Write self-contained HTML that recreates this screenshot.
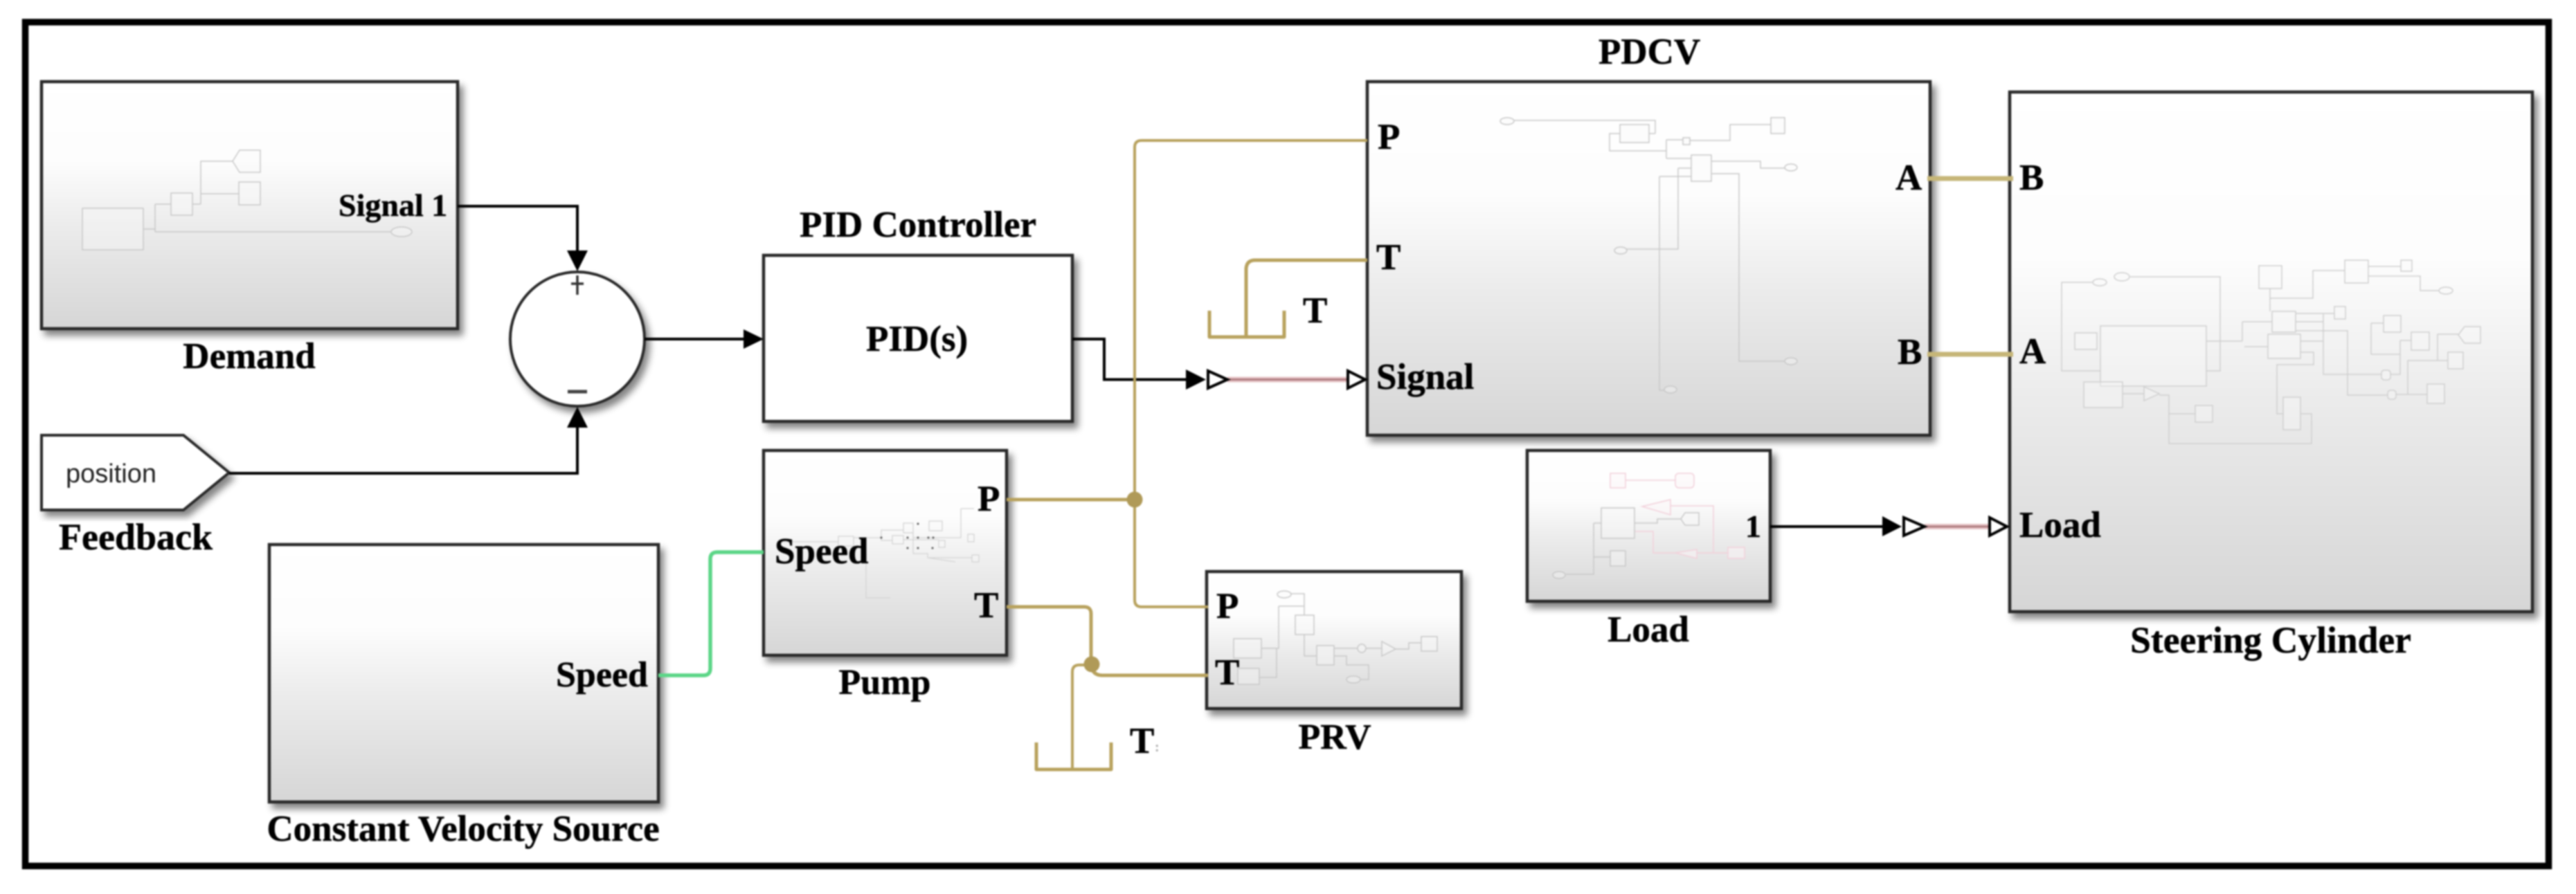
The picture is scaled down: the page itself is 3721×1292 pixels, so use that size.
<!DOCTYPE html>
<html><head><meta charset="utf-8"><title>Steering system model</title>
<style>
html,body{margin:0;padding:0;background:#fff;width:3721px;height:1292px;overflow:hidden}
svg{display:block;filter:blur(1px)}
text{font-family:"Liberation Serif",serif;font-weight:bold;font-size:53px;fill:#000;stroke:#000;stroke-width:.5}
.sm{font-size:46px}
.b{stroke:#2a2a2a;stroke-width:4.5;filter:url(#sh)}
.g{fill:url(#grad)}
.w{fill:#fff}
.blk{fill:none;stroke:#000;stroke-width:4}
.gold{fill:none;stroke:#b8a25e;stroke-width:5;stroke-linejoin:round}
.thin{stroke-width:4}
.ab{fill:none;stroke:#c6b678;stroke-width:7}
.pk{fill:none;stroke:#e6c4c6;stroke-width:8}
.pk2{fill:none;stroke:#a87478;stroke-width:2.5}
.op{fill:#fff;stroke:#000;stroke-width:4}
.sk{fill:none;stroke:#c8c8c8;stroke-width:1.5}
.sk rect,.sk ellipse,.sk polygon,.sk circle{fill:#fafafa;fill-opacity:.35}
.pn{fill:none;stroke:#f2d0da;stroke-width:1.5}
.pn rect,.pn polygon{fill:#fbf6f7;fill-opacity:.5}
</style></head><body>
<svg xmlns="http://www.w3.org/2000/svg" width="3721" height="1292" viewBox="0 0 3721 1292">
<defs>
<linearGradient id="grad" x1="0" y1="0" x2="0" y2="1">
<stop offset="0" stop-color="#fff"/><stop offset=".32" stop-color="#fdfdfd"/><stop offset=".58" stop-color="#ececec"/><stop offset="1" stop-color="#d6d6d6"/>
</linearGradient>
<filter id="sh" x="-10%" y="-10%" width="125%" height="125%">
<feDropShadow dx="6" dy="8" stdDeviation="5" flood-color="#000" flood-opacity=".48"/>
</filter>
</defs>
<rect width="3721" height="1292" fill="#fff"/>
<!-- outer frame -->
<rect x="36.5" y="32" width="3645" height="1219.5" fill="none" stroke="#000" stroke-width="9.5"/>

<!-- blocks -->
<rect class="b g" x="60" y="118" width="601" height="357"/>
<rect class="b w" x="1103" y="369" width="446" height="240"/>
<rect class="b g" x="1103" y="651" width="351" height="296"/>
<rect class="b g" x="389" y="787" width="562" height="372"/>
<rect class="b g" x="1975" y="118" width="813" height="511"/>
<rect class="b g" x="1743" y="826" width="368" height="198"/>
<rect class="b g" x="2206" y="651" width="351" height="218"/>
<rect class="b g" x="2903" y="133" width="755" height="751"/>
<ellipse class="b w" cx="834" cy="490" rx="97" ry="97" style="stroke-width:4"/>
<polygon class="b w" points="60,629 265,629 331,683 265,737 60,737" style="stroke-width:4"/>

<!-- Demand internals -->
<g class="sk">
<rect x="119" y="301" width="88" height="60"/><rect x="247" y="279" width="31" height="32"/><rect x="345" y="263" width="31" height="33"/>
<polygon points="346,217 376,217 376,249 346,249 336,233"/>
<path d="M207 331H224M224 295V335M224 295H247M224 335H565M278 295H290M290 295V233H336M290 280H345"/>
<ellipse cx="580" cy="335" rx="15" ry="7"/>
</g>

<!-- PDCV internals -->
<g class="sk">
<ellipse cx="2177" cy="175" rx="10" ry="5"/><path d="M2187 174H2391V193"/>
<rect x="2340" y="180" width="42" height="26"/>
<path d="M2340 193H2325V218H2407M2407 202V229M2407 202H2431M2441 203H2499V180H2558M2407 229H2443M2472 233H2543V243H2578M2472 251H2512V522H2578M2424 243H2443M2424 243V360H2350M2397 255H2443M2397 255V564H2405M2382 193H2391"/>
<rect x="2431" y="199" width="10" height="10"/><rect x="2558" y="170" width="20" height="23"/><rect x="2443" y="224" width="29" height="38"/>
<ellipse cx="2587" cy="242" rx="9" ry="5"/><ellipse cx="2587" cy="522" rx="9" ry="5"/><ellipse cx="2341" cy="362" rx="9" ry="5"/><ellipse cx="2413" cy="563" rx="9" ry="5"/>
</g>

<!-- Pump internals -->
<g class="sk" style="stroke:#d4d4d4;stroke-width:1.3">
<rect x="1211" y="775" width="22" height="14"/><rect x="1305" y="756" width="14" height="14"/><rect x="1289" y="774" width="16" height="12"/><rect x="1342" y="753" width="19" height="14"/><rect x="1356" y="781" width="9" height="10"/><rect x="1398" y="772" width="9" height="11"/><rect x="1404" y="802" width="10" height="10"/>
<path d="M1233 777H1273V766H1305M1273 777V781H1289M1388 735H1407M1388 735V777H1319V788M1251 800V864H1286M1305 780H1356M1319 770V800H1340V806H1404M1130 783H1211M1340 806L1380 812"/>
</g>
<g fill="#555"><circle cx="1273" cy="777" r="1.5"/><circle cx="1326" cy="757" r="1.5"/><circle cx="1311" cy="777" r="1.5"/><circle cx="1326" cy="777" r="1.5"/><circle cx="1341" cy="777" r="1.5"/><circle cx="1348" cy="777" r="1.5"/><circle cx="1311" cy="792" r="1.5"/><circle cx="1326" cy="792" r="1.5"/><circle cx="1347" cy="792" r="1.5"/></g>

<!-- PRV internals -->
<g class="sk">
<ellipse cx="1855" cy="859" rx="10" ry="5"/><rect x="1871" y="889" width="27" height="28"/><rect x="1782" y="923" width="40" height="28"/><rect x="1788" y="966" width="31" height="23"/><rect x="1902" y="933" width="25" height="28"/>
<circle cx="1967" cy="937" r="6"/><polygon points="1996,927 2016,938 1996,948"/><rect x="2053" y="920" width="23" height="21"/><ellipse cx="1955" cy="982" rx="10" ry="5"/>
<path d="M1865 858H1884V889M1847 876H1884M1847 876V937H1822M1819 979H1844V937M1884 917V948H1902M1927 937H1961M1973 937H1996M2016 938H2035V929H2053M1927 948H1945V961H1977V982H1965"/>
</g>

<!-- Load internals -->
<g class="pn">
<rect x="2326" y="684" width="22" height="21"/><path d="M2348 694H2420"/><rect x="2420" y="684" width="27" height="21" rx="5"/>
<polygon points="2372,732 2413,722 2413,744"/><path d="M2413 731H2475V799M2361 768H2388V799H2420M2451 799H2496"/>
<polygon points="2420,799 2451,794 2451,807"/><rect x="2496" y="791" width="24" height="16"/>
</g>
<g class="sk">
<rect x="2313" y="734" width="48" height="44"/><path d="M2361 756H2394V750H2428M2302 756H2313M2302 756V830H2262M2302 805H2326"/>
<polygon points="2434,741 2454,741 2454,759 2434,759 2428,750"/><ellipse cx="2252" cy="831" rx="9" ry="5"/><rect x="2326" y="796" width="22" height="22"/>
</g>

<!-- Steering internals -->
<g class="sk" style="stroke:#cfcfcf">
<path d="M3023 408H2978V536H3034M3077 400H3207V536H3187M3187 493H3239M3239 465V493M3239 465H3282M3242 501H3276M3279 417V450M3279 431H3341V391H3387M3421 385H3468M3421 399H3496V420H3523M3316 453H3372M3356 453V541H3440M3316 465H3356M3316 478H3391V571H3449M3323 493H3356M3323 509H3342V527H3289V598H3298M3323 598H3339V641H3133V571H3119M3133 598H3171M3066 569H3097M3425 467H3443M3425 467V512H3467M3467 492V541H3453M3467 492H3483M3461 570H3506M3478 570V521H3536M3521 521V483H3551"/>
<rect x="3034" y="471" width="153" height="87"/><rect x="2997" y="481" width="32" height="24"/><rect x="3010" y="552" width="56" height="37"/>
<polygon points="3097,559 3097,579 3119,569"/><rect x="3171" y="586" width="25" height="24"/><rect x="3263" y="384" width="33" height="33"/><rect x="3387" y="376" width="34" height="33"/><rect x="3468" y="376" width="16" height="16"/>
<ellipse cx="3533" cy="420" rx="10" ry="5"/><rect x="3282" y="450" width="34" height="30"/><rect x="3276" y="483" width="47" height="35"/><rect x="3372" y="443" width="16" height="18"/>
<rect x="3443" y="456" width="25" height="24"/><rect x="3483" y="480" width="26" height="26"/><polygon points="3560,472 3583,472 3583,496 3560,496 3551,484"/><rect x="3536" y="509" width="22" height="24"/><rect x="3506" y="555" width="25" height="28"/>
<rect x="3440" y="535" width="13" height="14" rx="4"/><rect x="3449" y="564" width="12" height="13" rx="4"/><rect x="3298" y="574" width="25" height="47"/>
<ellipse cx="3033" cy="408" rx="10" ry="5"/><ellipse cx="3065" cy="400" rx="11" ry="6"/>
</g>

<!-- black signals -->
<path class="blk" d="M661 298H834V365"/>
<path class="blk" d="M331 684H834V615"/>
<path class="blk" d="M931 490H1078"/>
<path class="blk" d="M1549 490H1595V548.5H1716"/>
<path class="blk" d="M2557 761H2722"/>
<polygon points="819,362 849,362 834,392"/>
<polygon points="819,618 849,618 834,588"/>
<polygon points="1074,476 1074,504 1103,490"/>
<polygon points="1713,534 1713,563 1742,548.5"/>
<polygon points="2719,746 2719,775 2747,761"/>
<path d="M825 410H843M834 398V426" stroke="#333" stroke-width="3.5" fill="none"/>
<path d="M820 566H848" stroke="#444" stroke-width="5" fill="none"/>

<!-- pink physical signal -->
<path class="pk" d="M1773 548.5H1948"/><path class="pk2" d="M1773 548.5H1948"/>
<path class="pk" d="M2780 761H2875"/><path class="pk2" d="M2780 761H2875"/>
<polygon class="op" points="1745,536 1745,561 1773,548.5"/>
<polygon class="op" points="1947,536 1947,561 1972,548.5"/>
<polygon class="op" points="2750,748 2750,774 2780,761"/>
<polygon class="op" points="2874,748 2874,774 2899,761"/>

<!-- gold hydraulic -->
<path class="gold thin" d="M1975 203H1649Q1639 203 1639 213V867Q1639 877 1649 877H1745"/>
<path class="gold" d="M1454 722H1639"/>
<circle cx="1639" cy="722" r="11.5" fill="#b09a58"/>
<path class="gold" d="M1975 376H1813Q1801 376 1800 388V486"/>
<path class="gold" d="M1747 449V487H1855V449"/>
<path class="gold" d="M1454 877H1566Q1576 877 1576 887V961Q1578 976 1592 976H1745"/>
<path class="gold thin" d="M1577 961H1559Q1549 961 1549 971V1112"/>
<path class="gold" d="M1497 1073V1112H1605V1073"/>
<circle cx="1577" cy="960" r="11.5" fill="#b09a58"/>
<path class="ab" d="M2784 258H2908"/>
<path class="ab" d="M2784 512H2908"/>
<!-- green -->
<path d="M951 976H1016Q1026 976 1026 966V808Q1026 798 1036 798H1103" fill="none" stroke="#5cd687" stroke-width="5.5"/>

<!-- labels -->
<text x="360" y="532" text-anchor="middle">Demand</text>
<text class="sm" x="489" y="312">Signal 1</text>
<text x="1155" y="342">PID Controller</text>
<text x="1251" y="507">PID(s)</text>
<text x="2309" y="92">PDCV</text>
<text x="1990" y="215">P</text>
<text x="1988" y="389">T</text>
<text x="1988" y="562">Signal</text>
<text x="1882" y="466">T</text>
<text x="2738" y="274">A</text>
<text x="2741" y="526">B</text>
<text x="2917" y="274">B</text>
<text x="2917" y="525">A</text>
<text x="2917" y="776">Load</text>
<text x="3280" y="943" text-anchor="middle" style="font-size:53.5px">Steering Cylinder</text>
<text x="1119" y="814">Speed</text>
<text x="1412" y="738">P</text>
<text x="1407" y="892">T</text>
<text x="1278" y="1003" text-anchor="middle" style="font-size:52px">Pump</text>
<text x="1632" y="1088">T</text>
<text x="1668" y="1086" style="font-size:20px;fill:#aaa;stroke:none">:</text>
<text x="1757" y="893">P</text>
<text x="1755" y="989">T</text>
<text x="1928" y="1082" text-anchor="middle" style="font-size:52px">PRV</text>
<text x="803" y="992" style="font-size:52px">Speed</text>
<text x="669" y="1215" text-anchor="middle">Constant Velocity Source</text>
<text x="95" y="697" style='font-family:"Liberation Sans",sans-serif;font-weight:normal;font-size:38px;fill:#222;stroke:none'>position</text>
<text x="196" y="794" text-anchor="middle" style="font-size:54px">Feedback</text>
<text x="2381" y="927" text-anchor="middle">Load</text>
<text class="sm" x="2521" y="776">1</text>
</svg>
</body></html>
